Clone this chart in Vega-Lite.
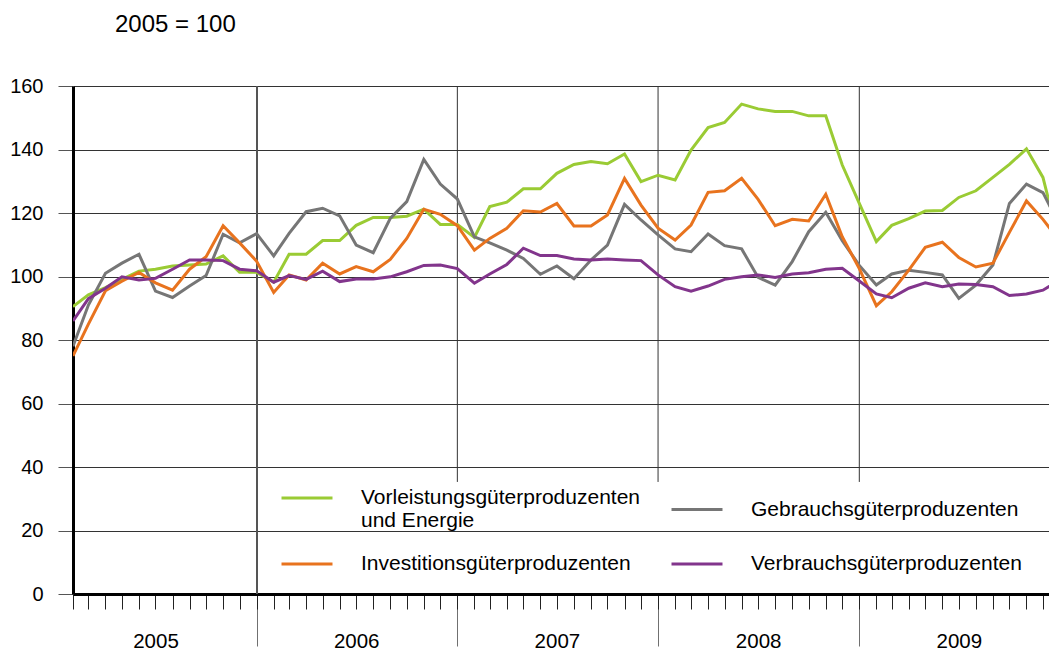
{
  "$schema": "https://vega.github.io/schema/vega-lite/v6.json",
  "width": 976,
  "height": 508,
  "autosize": {"type": "none"},
  "padding": {"left": 73, "top": 86, "right": 0, "bottom": 59},
  "background": "white",
  "title": {
    "text": "2005 = 100",
    "anchor": "start",
    "frame": "group",
    "font": "Liberation Sans",
    "fontSize": 24,
    "fontWeight": "normal",
    "color": "black",
    "baseline": "alphabetic",
    "dx": 42,
    "offset": 20
  },
  "config": {
    "font": "Liberation Sans",
    "view": {"stroke": null},
    "axis": {"labelFont": "Liberation Sans", "labelColor": "black", "titleFont": "Liberation Sans"}
  },
  "data": {
    "values": [
      {"date": "2005-02-01", "series": "Vorleistungsgüterproduzenten und Energie", "value": 90.5},
      {"date": "2005-03-01", "series": "Vorleistungsgüterproduzenten und Energie", "value": 94.2},
      {"date": "2005-04-01", "series": "Vorleistungsgüterproduzenten und Energie", "value": 96.5},
      {"date": "2005-05-01", "series": "Vorleistungsgüterproduzenten und Energie", "value": 99.1},
      {"date": "2005-06-01", "series": "Vorleistungsgüterproduzenten und Energie", "value": 101.7},
      {"date": "2005-07-01", "series": "Vorleistungsgüterproduzenten und Energie", "value": 102.3},
      {"date": "2005-08-01", "series": "Vorleistungsgüterproduzenten und Energie", "value": 103.3},
      {"date": "2005-09-01", "series": "Vorleistungsgüterproduzenten und Energie", "value": 103.6},
      {"date": "2005-10-01", "series": "Vorleistungsgüterproduzenten und Energie", "value": 103.9},
      {"date": "2005-11-01", "series": "Vorleistungsgüterproduzenten und Energie", "value": 106.5},
      {"date": "2005-12-01", "series": "Vorleistungsgüterproduzenten und Energie", "value": 101.3},
      {"date": "2006-01-01", "series": "Vorleistungsgüterproduzenten und Energie", "value": 101.3},
      {"date": "2006-02-01", "series": "Vorleistungsgüterproduzenten und Energie", "value": 98.2},
      {"date": "2006-03-01", "series": "Vorleistungsgüterproduzenten und Energie", "value": 107.0},
      {"date": "2006-04-01", "series": "Vorleistungsgüterproduzenten und Energie", "value": 107.0},
      {"date": "2006-05-01", "series": "Vorleistungsgüterproduzenten und Energie", "value": 111.3},
      {"date": "2006-06-01", "series": "Vorleistungsgüterproduzenten und Energie", "value": 111.3},
      {"date": "2006-07-01", "series": "Vorleistungsgüterproduzenten und Energie", "value": 116.1},
      {"date": "2006-08-01", "series": "Vorleistungsgüterproduzenten und Energie", "value": 118.6},
      {"date": "2006-09-01", "series": "Vorleistungsgüterproduzenten und Energie", "value": 118.6},
      {"date": "2006-10-01", "series": "Vorleistungsgüterproduzenten und Energie", "value": 119.0},
      {"date": "2006-11-01", "series": "Vorleistungsgüterproduzenten und Energie", "value": 121.2},
      {"date": "2006-12-01", "series": "Vorleistungsgüterproduzenten und Energie", "value": 116.4},
      {"date": "2007-01-01", "series": "Vorleistungsgüterproduzenten und Energie", "value": 116.4},
      {"date": "2007-02-01", "series": "Vorleistungsgüterproduzenten und Energie", "value": 112.3},
      {"date": "2007-03-01", "series": "Vorleistungsgüterproduzenten und Energie", "value": 122.0},
      {"date": "2007-04-01", "series": "Vorleistungsgüterproduzenten und Energie", "value": 123.4},
      {"date": "2007-05-01", "series": "Vorleistungsgüterproduzenten und Energie", "value": 127.6},
      {"date": "2007-06-01", "series": "Vorleistungsgüterproduzenten und Energie", "value": 127.6},
      {"date": "2007-07-01", "series": "Vorleistungsgüterproduzenten und Energie", "value": 132.5},
      {"date": "2007-08-01", "series": "Vorleistungsgüterproduzenten und Energie", "value": 135.3},
      {"date": "2007-09-01", "series": "Vorleistungsgüterproduzenten und Energie", "value": 136.2},
      {"date": "2007-10-01", "series": "Vorleistungsgüterproduzenten und Energie", "value": 135.5},
      {"date": "2007-11-01", "series": "Vorleistungsgüterproduzenten und Energie", "value": 138.6},
      {"date": "2007-12-01", "series": "Vorleistungsgüterproduzenten und Energie", "value": 129.9},
      {"date": "2008-01-01", "series": "Vorleistungsgüterproduzenten und Energie", "value": 131.9},
      {"date": "2008-02-01", "series": "Vorleistungsgüterproduzenten und Energie", "value": 130.4},
      {"date": "2008-03-01", "series": "Vorleistungsgüterproduzenten und Energie", "value": 139.8},
      {"date": "2008-04-01", "series": "Vorleistungsgüterproduzenten und Energie", "value": 146.9},
      {"date": "2008-05-01", "series": "Vorleistungsgüterproduzenten und Energie", "value": 148.5},
      {"date": "2008-06-01", "series": "Vorleistungsgüterproduzenten und Energie", "value": 154.3},
      {"date": "2008-07-01", "series": "Vorleistungsgüterproduzenten und Energie", "value": 152.8},
      {"date": "2008-08-01", "series": "Vorleistungsgüterproduzenten und Energie", "value": 152.0},
      {"date": "2008-09-01", "series": "Vorleistungsgüterproduzenten und Energie", "value": 152.0},
      {"date": "2008-10-01", "series": "Vorleistungsgüterproduzenten und Energie", "value": 150.6},
      {"date": "2008-11-01", "series": "Vorleistungsgüterproduzenten und Energie", "value": 150.6},
      {"date": "2008-12-01", "series": "Vorleistungsgüterproduzenten und Energie", "value": 135.1},
      {"date": "2009-01-01", "series": "Vorleistungsgüterproduzenten und Energie", "value": 123.0},
      {"date": "2009-02-01", "series": "Vorleistungsgüterproduzenten und Energie", "value": 111.0},
      {"date": "2009-03-01", "series": "Vorleistungsgüterproduzenten und Energie", "value": 116.1},
      {"date": "2009-04-01", "series": "Vorleistungsgüterproduzenten und Energie", "value": 118.2},
      {"date": "2009-05-01", "series": "Vorleistungsgüterproduzenten und Energie", "value": 120.6},
      {"date": "2009-06-01", "series": "Vorleistungsgüterproduzenten und Energie", "value": 120.8},
      {"date": "2009-07-01", "series": "Vorleistungsgüterproduzenten und Energie", "value": 124.9},
      {"date": "2009-08-01", "series": "Vorleistungsgüterproduzenten und Energie", "value": 127.0},
      {"date": "2009-09-01", "series": "Vorleistungsgüterproduzenten und Energie", "value": 131.2},
      {"date": "2009-10-01", "series": "Vorleistungsgüterproduzenten und Energie", "value": 135.3},
      {"date": "2009-11-01", "series": "Vorleistungsgüterproduzenten und Energie", "value": 140.2},
      {"date": "2009-12-01", "series": "Vorleistungsgüterproduzenten und Energie", "value": 131.2},
      {"date": "2010-01-01", "series": "Vorleistungsgüterproduzenten und Energie", "value": 110.0},

      {"date": "2005-02-01", "series": "Gebrauchsgüterproduzenten", "value": 78.0},
      {"date": "2005-03-01", "series": "Gebrauchsgüterproduzenten", "value": 91.0},
      {"date": "2005-04-01", "series": "Gebrauchsgüterproduzenten", "value": 101.0},
      {"date": "2005-05-01", "series": "Gebrauchsgüterproduzenten", "value": 104.2},
      {"date": "2005-06-01", "series": "Gebrauchsgüterproduzenten", "value": 107.0},
      {"date": "2005-07-01", "series": "Gebrauchsgüterproduzenten", "value": 95.4},
      {"date": "2005-08-01", "series": "Gebrauchsgüterproduzenten", "value": 93.4},
      {"date": "2005-09-01", "series": "Gebrauchsgüterproduzenten", "value": 97.0},
      {"date": "2005-10-01", "series": "Gebrauchsgüterproduzenten", "value": 100.3},
      {"date": "2005-11-01", "series": "Gebrauchsgüterproduzenten", "value": 113.3},
      {"date": "2005-12-01", "series": "Gebrauchsgüterproduzenten", "value": 110.6},
      {"date": "2006-01-01", "series": "Gebrauchsgüterproduzenten", "value": 113.5},
      {"date": "2006-02-01", "series": "Gebrauchsgüterproduzenten", "value": 106.5},
      {"date": "2006-03-01", "series": "Gebrauchsgüterproduzenten", "value": 113.6},
      {"date": "2006-04-01", "series": "Gebrauchsgüterproduzenten", "value": 120.4},
      {"date": "2006-05-01", "series": "Gebrauchsgüterproduzenten", "value": 121.5},
      {"date": "2006-06-01", "series": "Gebrauchsgüterproduzenten", "value": 119.1},
      {"date": "2006-07-01", "series": "Gebrauchsgüterproduzenten", "value": 109.9},
      {"date": "2006-08-01", "series": "Gebrauchsgüterproduzenten", "value": 107.5},
      {"date": "2006-09-01", "series": "Gebrauchsgüterproduzenten", "value": 118.3},
      {"date": "2006-10-01", "series": "Gebrauchsgüterproduzenten", "value": 123.6},
      {"date": "2006-11-01", "series": "Gebrauchsgüterproduzenten", "value": 136.9},
      {"date": "2006-12-01", "series": "Gebrauchsgüterproduzenten", "value": 129.1},
      {"date": "2007-01-01", "series": "Gebrauchsgüterproduzenten", "value": 124.4},
      {"date": "2007-02-01", "series": "Gebrauchsgüterproduzenten", "value": 112.5},
      {"date": "2007-03-01", "series": "Gebrauchsgüterproduzenten", "value": 110.6},
      {"date": "2007-04-01", "series": "Gebrauchsgüterproduzenten", "value": 108.3},
      {"date": "2007-05-01", "series": "Gebrauchsgüterproduzenten", "value": 105.7},
      {"date": "2007-06-01", "series": "Gebrauchsgüterproduzenten", "value": 100.7},
      {"date": "2007-07-01", "series": "Gebrauchsgüterproduzenten", "value": 103.3},
      {"date": "2007-08-01", "series": "Gebrauchsgüterproduzenten", "value": 99.3},
      {"date": "2007-09-01", "series": "Gebrauchsgüterproduzenten", "value": 105.2},
      {"date": "2007-10-01", "series": "Gebrauchsgüterproduzenten", "value": 109.9},
      {"date": "2007-11-01", "series": "Gebrauchsgüterproduzenten", "value": 122.7},
      {"date": "2007-12-01", "series": "Gebrauchsgüterproduzenten", "value": 117.8},
      {"date": "2008-01-01", "series": "Gebrauchsgüterproduzenten", "value": 113.1},
      {"date": "2008-02-01", "series": "Gebrauchsgüterproduzenten", "value": 108.7},
      {"date": "2008-03-01", "series": "Gebrauchsgüterproduzenten", "value": 107.8},
      {"date": "2008-04-01", "series": "Gebrauchsgüterproduzenten", "value": 113.4},
      {"date": "2008-05-01", "series": "Gebrauchsgüterproduzenten", "value": 109.7},
      {"date": "2008-06-01", "series": "Gebrauchsgüterproduzenten", "value": 108.7},
      {"date": "2008-07-01", "series": "Gebrauchsgüterproduzenten", "value": 99.7},
      {"date": "2008-08-01", "series": "Gebrauchsgüterproduzenten", "value": 97.3},
      {"date": "2008-09-01", "series": "Gebrauchsgüterproduzenten", "value": 104.7},
      {"date": "2008-10-01", "series": "Gebrauchsgüterproduzenten", "value": 114.1},
      {"date": "2008-11-01", "series": "Gebrauchsgüterproduzenten", "value": 120.2},
      {"date": "2008-12-01", "series": "Gebrauchsgüterproduzenten", "value": 111.3},
      {"date": "2009-01-01", "series": "Gebrauchsgüterproduzenten", "value": 103.5},
      {"date": "2009-02-01", "series": "Gebrauchsgüterproduzenten", "value": 97.3},
      {"date": "2009-03-01", "series": "Gebrauchsgüterproduzenten", "value": 100.8},
      {"date": "2009-04-01", "series": "Gebrauchsgüterproduzenten", "value": 102.0},
      {"date": "2009-05-01", "series": "Gebrauchsgüterproduzenten", "value": 101.3},
      {"date": "2009-06-01", "series": "Gebrauchsgüterproduzenten", "value": 100.5},
      {"date": "2009-07-01", "series": "Gebrauchsgüterproduzenten", "value": 93.1},
      {"date": "2009-08-01", "series": "Gebrauchsgüterproduzenten", "value": 97.3},
      {"date": "2009-09-01", "series": "Gebrauchsgüterproduzenten", "value": 103.6},
      {"date": "2009-10-01", "series": "Gebrauchsgüterproduzenten", "value": 123.0},
      {"date": "2009-11-01", "series": "Gebrauchsgüterproduzenten", "value": 129.1},
      {"date": "2009-12-01", "series": "Gebrauchsgüterproduzenten", "value": 126.4},
      {"date": "2010-01-01", "series": "Gebrauchsgüterproduzenten", "value": 116.0},

      {"date": "2005-02-01", "series": "Investitionsgüterproduzenten", "value": 75.0},
      {"date": "2005-03-01", "series": "Investitionsgüterproduzenten", "value": 85.0},
      {"date": "2005-04-01", "series": "Investitionsgüterproduzenten", "value": 95.5},
      {"date": "2005-05-01", "series": "Investitionsgüterproduzenten", "value": 98.5},
      {"date": "2005-06-01", "series": "Investitionsgüterproduzenten", "value": 101.3},
      {"date": "2005-07-01", "series": "Investitionsgüterproduzenten", "value": 98.0},
      {"date": "2005-08-01", "series": "Investitionsgüterproduzenten", "value": 95.7},
      {"date": "2005-09-01", "series": "Investitionsgüterproduzenten", "value": 102.3},
      {"date": "2005-10-01", "series": "Investitionsgüterproduzenten", "value": 106.2},
      {"date": "2005-11-01", "series": "Investitionsgüterproduzenten", "value": 116.0},
      {"date": "2005-12-01", "series": "Investitionsgüterproduzenten", "value": 110.6},
      {"date": "2006-01-01", "series": "Investitionsgüterproduzenten", "value": 104.8},
      {"date": "2006-02-01", "series": "Investitionsgüterproduzenten", "value": 95.0},
      {"date": "2006-03-01", "series": "Investitionsgüterproduzenten", "value": 100.5},
      {"date": "2006-04-01", "series": "Investitionsgüterproduzenten", "value": 98.9},
      {"date": "2006-05-01", "series": "Investitionsgüterproduzenten", "value": 104.2},
      {"date": "2006-06-01", "series": "Investitionsgüterproduzenten", "value": 100.8},
      {"date": "2006-07-01", "series": "Investitionsgüterproduzenten", "value": 103.1},
      {"date": "2006-08-01", "series": "Investitionsgüterproduzenten", "value": 101.5},
      {"date": "2006-09-01", "series": "Investitionsgüterproduzenten", "value": 105.4},
      {"date": "2006-10-01", "series": "Investitionsgüterproduzenten", "value": 112.0},
      {"date": "2006-11-01", "series": "Investitionsgüterproduzenten", "value": 121.2},
      {"date": "2006-12-01", "series": "Investitionsgüterproduzenten", "value": 119.6},
      {"date": "2007-01-01", "series": "Investitionsgüterproduzenten", "value": 116.0},
      {"date": "2007-02-01", "series": "Investitionsgüterproduzenten", "value": 108.3},
      {"date": "2007-03-01", "series": "Investitionsgüterproduzenten", "value": 112.0},
      {"date": "2007-04-01", "series": "Investitionsgüterproduzenten", "value": 115.2},
      {"date": "2007-05-01", "series": "Investitionsgüterproduzenten", "value": 120.7},
      {"date": "2007-06-01", "series": "Investitionsgüterproduzenten", "value": 120.3},
      {"date": "2007-07-01", "series": "Investitionsgüterproduzenten", "value": 123.0},
      {"date": "2007-08-01", "series": "Investitionsgüterproduzenten", "value": 115.9},
      {"date": "2007-09-01", "series": "Investitionsgüterproduzenten", "value": 115.9},
      {"date": "2007-10-01", "series": "Investitionsgüterproduzenten", "value": 119.4},
      {"date": "2007-11-01", "series": "Investitionsgüterproduzenten", "value": 130.9},
      {"date": "2007-12-01", "series": "Investitionsgüterproduzenten", "value": 122.5},
      {"date": "2008-01-01", "series": "Investitionsgüterproduzenten", "value": 115.2},
      {"date": "2008-02-01", "series": "Investitionsgüterproduzenten", "value": 111.5},
      {"date": "2008-03-01", "series": "Investitionsgüterproduzenten", "value": 116.2},
      {"date": "2008-04-01", "series": "Investitionsgüterproduzenten", "value": 126.5},
      {"date": "2008-05-01", "series": "Investitionsgüterproduzenten", "value": 127.0},
      {"date": "2008-06-01", "series": "Investitionsgüterproduzenten", "value": 130.9},
      {"date": "2008-07-01", "series": "Investitionsgüterproduzenten", "value": 124.3},
      {"date": "2008-08-01", "series": "Investitionsgüterproduzenten", "value": 116.0},
      {"date": "2008-09-01", "series": "Investitionsgüterproduzenten", "value": 118.0},
      {"date": "2008-10-01", "series": "Investitionsgüterproduzenten", "value": 117.5},
      {"date": "2008-11-01", "series": "Investitionsgüterproduzenten", "value": 125.9},
      {"date": "2008-12-01", "series": "Investitionsgüterproduzenten", "value": 112.5},
      {"date": "2009-01-01", "series": "Investitionsgüterproduzenten", "value": 102.5},
      {"date": "2009-02-01", "series": "Investitionsgüterproduzenten", "value": 90.8},
      {"date": "2009-03-01", "series": "Investitionsgüterproduzenten", "value": 95.2},
      {"date": "2009-04-01", "series": "Investitionsgüterproduzenten", "value": 102.0},
      {"date": "2009-05-01", "series": "Investitionsgüterproduzenten", "value": 109.2},
      {"date": "2009-06-01", "series": "Investitionsgüterproduzenten", "value": 110.8},
      {"date": "2009-07-01", "series": "Investitionsgüterproduzenten", "value": 106.0},
      {"date": "2009-08-01", "series": "Investitionsgüterproduzenten", "value": 103.0},
      {"date": "2009-09-01", "series": "Investitionsgüterproduzenten", "value": 104.2},
      {"date": "2009-10-01", "series": "Investitionsgüterproduzenten", "value": 113.9},
      {"date": "2009-11-01", "series": "Investitionsgüterproduzenten", "value": 123.8},
      {"date": "2009-12-01", "series": "Investitionsgüterproduzenten", "value": 118.0},
      {"date": "2010-01-01", "series": "Investitionsgüterproduzenten", "value": 111.0},

      {"date": "2005-02-01", "series": "Verbrauchsgüterproduzenten", "value": 86.0},
      {"date": "2005-03-01", "series": "Verbrauchsgüterproduzenten", "value": 93.0},
      {"date": "2005-04-01", "series": "Verbrauchsgüterproduzenten", "value": 96.3},
      {"date": "2005-05-01", "series": "Verbrauchsgüterproduzenten", "value": 99.9},
      {"date": "2005-06-01", "series": "Verbrauchsgüterproduzenten", "value": 98.9},
      {"date": "2005-07-01", "series": "Verbrauchsgüterproduzenten", "value": 99.4},
      {"date": "2005-08-01", "series": "Verbrauchsgüterproduzenten", "value": 102.3},
      {"date": "2005-09-01", "series": "Verbrauchsgüterproduzenten", "value": 105.2},
      {"date": "2005-10-01", "series": "Verbrauchsgüterproduzenten", "value": 105.2},
      {"date": "2005-11-01", "series": "Verbrauchsgüterproduzenten", "value": 105.0},
      {"date": "2005-12-01", "series": "Verbrauchsgüterproduzenten", "value": 102.3},
      {"date": "2006-01-01", "series": "Verbrauchsgüterproduzenten", "value": 101.8},
      {"date": "2006-02-01", "series": "Verbrauchsgüterproduzenten", "value": 98.2},
      {"date": "2006-03-01", "series": "Verbrauchsgüterproduzenten", "value": 100.3},
      {"date": "2006-04-01", "series": "Verbrauchsgüterproduzenten", "value": 99.1},
      {"date": "2006-05-01", "series": "Verbrauchsgüterproduzenten", "value": 101.7},
      {"date": "2006-06-01", "series": "Verbrauchsgüterproduzenten", "value": 98.4},
      {"date": "2006-07-01", "series": "Verbrauchsgüterproduzenten", "value": 99.2},
      {"date": "2006-08-01", "series": "Verbrauchsgüterproduzenten", "value": 99.2},
      {"date": "2006-09-01", "series": "Verbrauchsgüterproduzenten", "value": 99.9},
      {"date": "2006-10-01", "series": "Verbrauchsgüterproduzenten", "value": 101.5},
      {"date": "2006-11-01", "series": "Verbrauchsgüterproduzenten", "value": 103.5},
      {"date": "2006-12-01", "series": "Verbrauchsgüterproduzenten", "value": 103.6},
      {"date": "2007-01-01", "series": "Verbrauchsgüterproduzenten", "value": 102.5},
      {"date": "2007-02-01", "series": "Verbrauchsgüterproduzenten", "value": 97.9},
      {"date": "2007-03-01", "series": "Verbrauchsgüterproduzenten", "value": 100.8},
      {"date": "2007-04-01", "series": "Verbrauchsgüterproduzenten", "value": 103.8},
      {"date": "2007-05-01", "series": "Verbrauchsgüterproduzenten", "value": 108.9},
      {"date": "2007-06-01", "series": "Verbrauchsgüterproduzenten", "value": 106.6},
      {"date": "2007-07-01", "series": "Verbrauchsgüterproduzenten", "value": 106.6},
      {"date": "2007-08-01", "series": "Verbrauchsgüterproduzenten", "value": 105.5},
      {"date": "2007-09-01", "series": "Verbrauchsgüterproduzenten", "value": 105.2},
      {"date": "2007-10-01", "series": "Verbrauchsgüterproduzenten", "value": 105.5},
      {"date": "2007-11-01", "series": "Verbrauchsgüterproduzenten", "value": 105.2},
      {"date": "2007-12-01", "series": "Verbrauchsgüterproduzenten", "value": 105.0},
      {"date": "2008-01-01", "series": "Verbrauchsgüterproduzenten", "value": 100.5},
      {"date": "2008-02-01", "series": "Verbrauchsgüterproduzenten", "value": 96.8},
      {"date": "2008-03-01", "series": "Verbrauchsgüterproduzenten", "value": 95.4},
      {"date": "2008-04-01", "series": "Verbrauchsgüterproduzenten", "value": 97.0},
      {"date": "2008-05-01", "series": "Verbrauchsgüterproduzenten", "value": 99.1},
      {"date": "2008-06-01", "series": "Verbrauchsgüterproduzenten", "value": 99.9},
      {"date": "2008-07-01", "series": "Verbrauchsgüterproduzenten", "value": 100.5},
      {"date": "2008-08-01", "series": "Verbrauchsgüterproduzenten", "value": 99.7},
      {"date": "2008-09-01", "series": "Verbrauchsgüterproduzenten", "value": 100.8},
      {"date": "2008-10-01", "series": "Verbrauchsgüterproduzenten", "value": 101.2},
      {"date": "2008-11-01", "series": "Verbrauchsgüterproduzenten", "value": 102.3},
      {"date": "2008-12-01", "series": "Verbrauchsgüterproduzenten", "value": 102.6},
      {"date": "2009-01-01", "series": "Verbrauchsgüterproduzenten", "value": 98.6},
      {"date": "2009-02-01", "series": "Verbrauchsgüterproduzenten", "value": 94.5},
      {"date": "2009-03-01", "series": "Verbrauchsgüterproduzenten", "value": 93.3},
      {"date": "2009-04-01", "series": "Verbrauchsgüterproduzenten", "value": 96.3},
      {"date": "2009-05-01", "series": "Verbrauchsgüterproduzenten", "value": 98.0},
      {"date": "2009-06-01", "series": "Verbrauchsgüterproduzenten", "value": 96.8},
      {"date": "2009-07-01", "series": "Verbrauchsgüterproduzenten", "value": 97.6},
      {"date": "2009-08-01", "series": "Verbrauchsgüterproduzenten", "value": 97.5},
      {"date": "2009-09-01", "series": "Verbrauchsgüterproduzenten", "value": 96.8},
      {"date": "2009-10-01", "series": "Verbrauchsgüterproduzenten", "value": 94.0},
      {"date": "2009-11-01", "series": "Verbrauchsgüterproduzenten", "value": 94.5},
      {"date": "2009-12-01", "series": "Verbrauchsgüterproduzenten", "value": 95.7},
      {"date": "2010-01-01", "series": "Verbrauchsgüterproduzenten", "value": 99.0}
    ]
  },
  "layer": [
    {
      "mark": {"type": "rule", "color": "#555555", "strokeWidth": 1},
      "encoding": {
        "x": {
          "datum": {"year": 2006, "month": 1, "date": 1, "utc": true},
          "type": "temporal",
          "axis": {
            "orient": "bottom",
            "title": null,
            "values": [
              {"year": 2006, "month": 1, "date": 1, "utc": true},
              {"year": 2007, "month": 1, "date": 1, "utc": true},
              {"year": 2008, "month": 1, "date": 1, "utc": true},
              {"year": 2009, "month": 1, "date": 1, "utc": true}
            ],
            "labels": false,
            "grid": false,
            "domain": false,
            "ticks": true,
            "tickSize": 52,
            "tickColor": "#707070",
            "tickWidth": 1
          }
        }
      }
    },
    {
      "data": {"values": [{"boundary": "2007-01-01"}, {"boundary": "2008-01-01"}, {"boundary": "2009-01-01"}]},
      "mark": {"type": "rule", "color": "#333333", "strokeWidth": 1},
      "encoding": {
        "x": {
          "field": "boundary",
          "type": "temporal",
          "axis": {
            "orient": "bottom",
            "title": null,
            "values": [
              {"year": 2005, "month": 7, "date": 1, "utc": true},
              {"year": 2006, "month": 7, "date": 1, "utc": true},
              {"year": 2007, "month": 7, "date": 1, "utc": true},
              {"year": 2008, "month": 7, "date": 1, "utc": true},
              {"year": 2009, "month": 7, "date": 1, "utc": true}
            ],
            "labelExpr": "utcFormat(datum.value, '%Y')",
            "labelFontSize": 20.5,
            "labelPadding": 37,
            "labelBaseline": "top",
            "labelAlign": "center",
            "grid": false,
            "domain": false,
            "ticks": false
          }
        },
        "y": {"datum": 35.3, "type": "quantitative"},
        "y2": {"datum": 160}
      }
    },
    {
      "mark": {"type": "line", "strokeWidth": 3, "clip": true},
      "encoding": {
        "x": {
          "field": "date",
          "type": "temporal",
          "scale": {
            "type": "utc",
            "domain": [
              {"year": 2005, "month": 2, "date": 1, "utc": true},
              {"year": 2009, "month": 12, "date": 12, "utc": true}
            ]
          },
          "axis": {
            "orient": "bottom",
            "title": null,
            "tickCount": {"interval": "month", "step": 1},
            "labels": false,
            "grid": false,
            "domain": true,
            "domainColor": "black",
            "domainWidth": 3,
            "ticks": true,
            "tickSize": 15,
            "tickColor": "#222222",
            "tickWidth": 1
          }
        },
        "y": {
          "field": "value",
          "type": "quantitative",
          "scale": {"domain": [0, 160], "nice": false, "zero": true},
          "axis": {
            "title": null,
            "values": [0, 20, 40, 60, 80, 100, 120, 140, 160],
            "labelFontSize": 20,
            "labelPadding": 15,
            "tickSize": 15,
            "tickColor": "#555555",
            "grid": true,
            "gridColor": "#333333",
            "gridWidth": 1,
            "domain": true,
            "domainColor": "black",
            "domainWidth": 3
          }
        },
        "color": {
          "field": "series",
          "type": "nominal",
          "scale": {
            "domain": [
              "Vorleistungsgüterproduzenten und Energie",
              "Investitionsgüterproduzenten",
              "Gebrauchsgüterproduzenten",
              "Verbrauchsgüterproduzenten"
            ],
            "range": ["#9ACB34", "#E8731E", "#767676", "#82358C"]
          },
          "legend": {
            "orient": "none",
            "legendX": 207,
            "legendY": 385,
            "columns": 2,
            "title": null,
            "padding": 0,
            "symbolType": "stroke",
            "symbolStrokeWidth": 3,
            "symbolSize": 2600,
            "labelFont": "Liberation Sans",
            "labelFontSize": 21,
            "labelColor": "black",
            "labelOffset": 27,
            "labelLimit": 500,
            "columnPadding": 24,
            "rowPadding": 6,
            "labelExpr": "datum.label == 'Vorleistungsgüterproduzenten und Energie' ? ['Vorleistungsgüterproduzenten', 'und Energie'] : datum.label"
          }
        }
      }
    }
  ],
  "resolve": {"axis": {"x": "independent"}}
}
